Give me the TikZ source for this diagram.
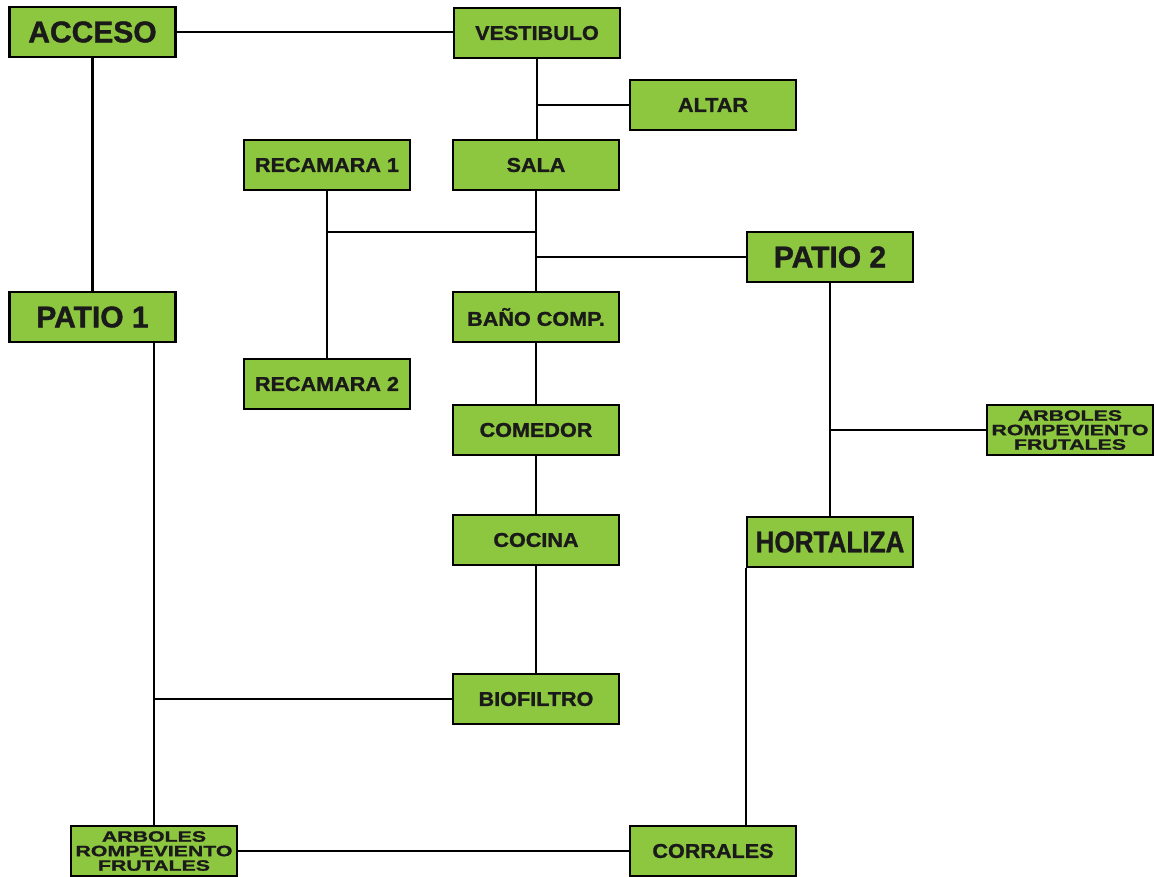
\documentclass[tikz,border=0pt]{standalone}
\usepackage{fontspec}
\setmainfont{Liberation Sans}
\usepackage{tikz}
\usetikzlibrary{positioning}

\begin{document}
\begin{tikzpicture}[x=1pt,y=-1pt,
    espacio/.style={draw=black, line width=2.2pt, fill=verdeesp, minimum width=166pt, minimum height=50pt, inner sep=0pt, text=textoesp, align=center},
    grande/.style={espacio, font=\fontsize{30pt}{30pt}\bfseries\addfontfeature{FakeBold=1.2}\selectfont},
    medio/.style={espacio, font=\fontsize{20pt}{20pt}\bfseries\addfontfeature{FakeStretch=1.08,FakeBold=1.2}\selectfont},
    angosto/.style={espacio, font=\fontsize{30pt}{30pt}\bfseries\addfontfeature{FakeStretch=0.87,FakeBold=1}\selectfont},
    chico/.style={espacio, font=\fontsize{15pt}{14.5pt}\bfseries\addfontfeature{FakeStretch=1.42,FakeBold=1.2}\selectfont},
    liga/.style={draw=black, line width=2.4pt}]
				\definecolor{verdeesp}{RGB}{141, 198, 63}
				\definecolor{textoesp}{RGB}{26, 26, 26}
				\useasboundingbox (0,0) rectangle (1156,876);
				% conexiones
				\coordinate (jrec) at (536,232);
				\node[grande] (acceso) at (92.5,32) {ACCESO};
				\node[medio] (vestibulo) at (537,33) {VESTIBULO};
				\node[medio] (altar) at (713,105) {ALTAR};
				\node[medio] (sala) at (536,165) {SALA};
				\node[medio] (recamarauno) at (327,165) {RECAMARA 1};
				\node[grande] (patiodos) at (830,257) {PATIO 2};
				\node[grande] (patiouno) at (92.5,317) {PATIO 1};
				\node[medio] (bano) at (536,317) {BAÑO COMP.};
				\node[medio] (recamarados) at (327,384) {RECAMARA 2};
				\node[medio] (comedor) at (536,430) {COMEDOR};
				\node[chico] (arbolesder) at (1070,430) {ARBOLES\\ROMPEVIENTO\\FRUTALES};
				\node[medio] (cocina) at (536,540) {COCINA};
				\node[angosto] (hortaliza) at (830,542) {HORTALIZA};
				\node[medio] (biofiltro) at (536,699) {BIOFILTRO};
				\node[chico] (arbolesinf) at (154,851) {ARBOLES\\ROMPEVIENTO\\FRUTALES};
				\node[medio] (corrales) at (713,851) {CORRALES};
				% lineas
				\draw[liga] (acceso.east) -- (acceso.east -| vestibulo.west);
				\draw[liga] (acceso.south) -- (patiouno.north);
				\draw[liga] (vestibulo.south) -- (vestibulo.south |- sala.north);
				\draw[liga] (altar.west) -- (altar.west -| vestibulo.south);
				\draw[liga] (sala.south) -- (bano.north);
				\draw[liga] (recamarauno.south) -- (recamarados.north);
				\draw[liga] (jrec) -- (jrec -| recamarauno.south);
				\draw[liga] (patiodos.west) -- (patiodos.west -| sala.south);
				\draw[liga] (bano.south) -- (comedor.north);
				\draw[liga] (comedor.south) -- (cocina.north);
				\draw[liga] (cocina.south) -- (biofiltro.north);
				\draw[liga] (arbolesinf.north) -- (arbolesinf.north |- patiouno.south);
				\draw[liga] (biofiltro.west) -- (biofiltro.west -| arbolesinf.north);
				\draw[liga] (arbolesinf.east) -- (corrales.west);
				\draw[liga] (patiodos.south) -- (hortaliza.north);
				\draw[liga] (arbolesder.west) -- (arbolesder.west -| patiodos.south);
				\draw[liga] (hortaliza.south west) -- (hortaliza.south west |- corrales.north);
			\end{tikzpicture}
\end{document}
